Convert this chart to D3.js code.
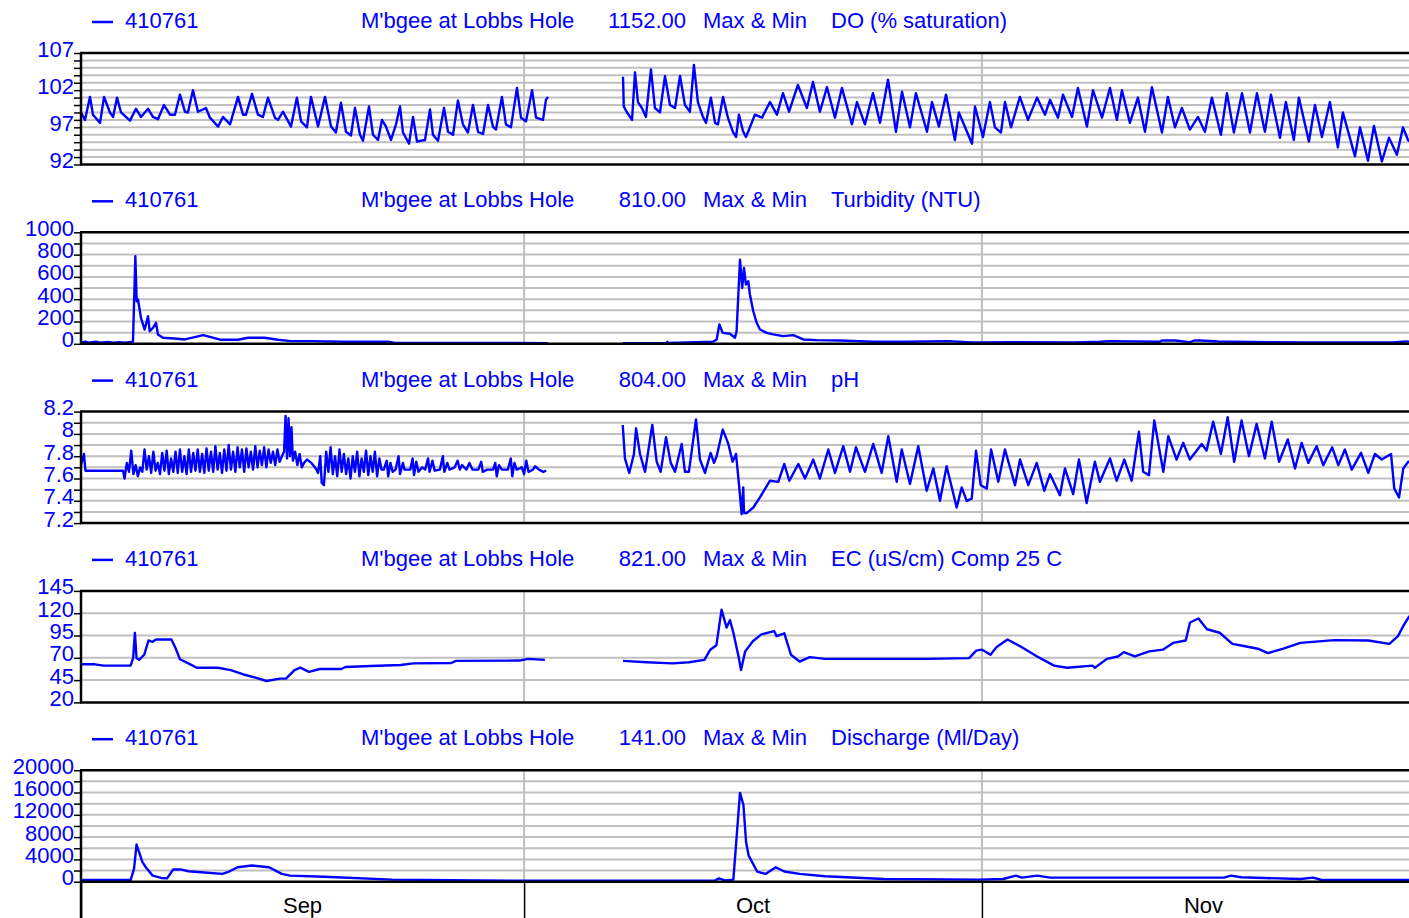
<!DOCTYPE html>
<html>
<head>
<meta charset="utf-8">
<script src="https://cdn.jsdelivr.net/npm/d3@7"></script>
<style>
html, body { margin: 0; padding: 0; background: #fff; overflow: hidden; }
svg { display: block; font-family: "Liberation Sans", Arial, sans-serif; }
</style>
</head>
<body>
<div id="chart"></div>
<script>
const siteId = "410761";
const siteName = "M'bgee at Lobbs Hole";
const headerValues = ["1152.00", "810.00", "804.00", "821.00", "141.00"];
const statLabel = "Max & Min";
const paramNames = ["DO (% saturation)", "Turbidity (NTU)", "pH", "EC (uS/cm) Comp 25 C", "Discharge (Ml/Day)"];
const monthLabels = ["Sep", "Oct", "Nov"];

const yDomains = [[92, 107], [0, 1000], [7.2, 8.2], [20, 145], [0, 20000]];
const yMajorTicks = [
    [92, 97, 102, 107],
    [0, 200, 400, 600, 800, 1000],
    [7.2, 7.4, 7.6, 7.8, 8, 8.2],
    [20, 45, 70, 95, 120, 145],
    [0, 4000, 8000, 12000, 16000, 20000]
];
const yGridSteps = [1, 100, 0.1, 25, 2000];

// [days since 1 Sep, value]; null marks a gap in the record
const doData = [
[0.00,99.0],[0.27,98.0],[0.61,101.1],[0.81,98.7],[1.29,97.6],[1.56,101.1],[1.96,99.0],[2.17,98.4],[2.44,101.0],[2.71,99.0],[3.32,97.9],[3.72,99.5],[4.06,98.4],[4.54,99.5],[4.87,98.4],[5.21,98.1],[5.62,100.0],[6.03,98.7],[6.36,98.7],[6.70,101.4],[7.04,99.1],[7.24,99.0],[7.58,102.0],[7.92,99.1],[8.46,99.6],[8.73,98.3],[9.28,97.1],[9.61,98.4],[10.09,97.4],[10.63,101.1],[10.97,98.7],[11.17,98.7],[11.58,101.5],[11.98,98.7],[12.32,98.4],[12.66,101.0],[13.13,98.3],[13.34,98.0],[13.68,99.1],[14.22,97.1],[14.62,101.0],[14.90,97.8],[15.30,97.0],[15.57,101.1],[16.05,97.1],[16.52,101.1],[16.93,97.1],[17.26,96.3],[17.60,100.3],[17.94,96.4],[18.28,95.9],[18.55,99.6],[18.89,96.0],[19.09,95.2],[19.50,99.8],[19.77,96.0],[20.11,95.3],[20.38,98.0],[20.65,97.1],[20.99,95.3],[21.33,97.4],[21.60,99.8],[21.80,96.3],[22.21,94.8],[22.48,98.4],[22.75,95.1],[23.29,95.3],[23.63,99.4],[23.83,96.0],[24.17,95.2],[24.58,99.6],[24.85,96.4],[25.19,96.0],[25.52,100.6],[25.86,97.4],[26.20,96.3],[26.54,100.0],[26.88,96.4],[27.22,96.1],[27.56,100.0],[27.89,97.1],[28.10,96.7],[28.50,101.1],[28.77,97.4],[29.11,97.0],[29.52,102.3],[29.79,98.3],[30.13,97.8],[30.54,102.0],[30.81,98.3],[31.28,98.0],[31.48,100.7],[31.62,101.1],
null,
[36.70,103.8],[36.75,99.8],[36.97,99.0],[37.31,98.0],[37.51,104.4],[37.71,100.4],[37.98,99.6],[38.25,98.4],[38.59,104.8],[38.86,99.6],[39.20,99.0],[39.54,103.9],[39.88,100.0],[40.22,99.6],[40.56,103.9],[40.89,100.0],[41.23,99.1],[41.50,105.4],[41.77,100.4],[42.11,98.4],[42.32,97.6],[42.65,101.0],[42.93,97.6],[43.13,97.4],[43.47,101.1],[43.80,98.3],[44.14,96.4],[44.35,95.7],[44.55,98.7],[44.82,96.5],[45.02,95.7],[45.23,96.7],[45.63,98.7],[46.11,98.3],[46.65,100.4],[47.12,98.7],[47.53,101.6],[47.94,99.1],[48.54,102.7],[49.15,99.6],[49.56,103.1],[50.03,99.1],[50.51,102.4],[51.05,98.3],[51.52,102.3],[52.20,97.4],[52.54,100.4],[53.08,97.4],[53.62,101.6],[54.10,97.6],[54.64,103.4],[55.18,96.4],[55.59,101.8],[56.13,97.0],[56.53,101.6],[57.28,96.4],[57.62,100.4],[58.09,97.1],[58.57,101.4],[59.17,95.3],[59.44,99.0],[60.33,94.8],[60.53,99.8],[61.07,95.7],[61.54,100.4],[61.88,97.0],[62.29,96.3],[62.56,100.4],[62.97,97.0],[63.57,101.1],[64.12,98.0],[64.73,101.0],[65.27,98.7],[65.61,100.7],[66.15,98.3],[66.49,101.4],[67.10,98.4],[67.50,102.3],[68.11,97.1],[68.52,102.0],[69.13,98.3],[69.67,102.3],[70.14,98.0],[70.48,102.0],[71.02,97.6],[71.56,101.0],[72.04,96.4],[72.51,102.4],[73.19,96.3],[73.59,101.1],[74.07,97.0],[74.54,99.6],[75.08,96.7],[75.63,98.4],[76.10,96.4],[76.57,101.0],[77.18,96.0],[77.59,101.6],[78.06,96.3],[78.61,101.6],[79.15,96.3],[79.62,101.6],[80.16,96.4],[80.57,101.4],[81.18,95.6],[81.58,100.4],[82.12,95.3],[82.46,101.0],[83.14,95.1],[83.55,100.0],[84.02,95.7],[84.56,100.4],[85.10,94.3],[85.44,99.0],[86.26,93.1],[86.60,97.0],[87.14,92.5],[87.54,97.2],[88.08,92.4],[88.56,95.6],[89.10,93.3],[89.51,97.0],[89.85,95.3],[90.30,94.6]
];

const turbData = [
[0.00,12],[0.30,20],[0.50,10],[1.00,18],[1.30,10],[1.80,16],[2.20,10],[2.60,15],[3.00,10],[3.52,20],[3.68,785],[3.77,382],[3.86,397],[4.06,233],[4.31,128],[4.54,248],[4.65,113],[4.87,143],[5.08,188],[5.21,84],[5.55,54],[6.34,48],[7.02,39],[7.70,60],[8.26,78],[8.80,60],[9.48,36],[10.63,36],[11.31,54],[12.44,54],[13.34,36],[14.22,24],[15.57,24],[17.85,18],[20.79,18],[21.24,8],[24.62,8],[31.62,6],
null,
[36.68,6],[39.65,8],[39.70,18],[39.75,8],[42.79,18],[43.04,39],[43.22,173],[43.45,98],[43.94,90],[44.28,54],[44.39,113],[44.62,755],[44.77,501],[44.89,680],[45.02,531],[45.18,561],[45.29,442],[45.52,292],[45.75,188],[45.97,128],[46.43,98],[46.87,84],[47.55,69],[48.23,78],[48.90,39],[49.81,33],[51.39,30],[53.62,18],[55.90,18],[58.70,24],[60.39,12],[61.07,12],[62.90,15],[67.30,12],[68.99,18],[69.67,24],[73.05,18],[73.19,30],[74.07,30],[75.08,15],[75.42,30],[75.76,30],[77.00,20],[78.00,18],[80.70,15],[82.70,12],[88.80,12],[89.70,20],[90.30,18]
];

const phData = [
[0.00,7.72],[0.20,7.82],[0.30,7.67],[2.85,7.67],[2.95,7.60],[3.10,7.74],[3.25,7.66],[3.40,7.85],[3.55,7.64],[3.70,7.72],[3.85,7.62],[4.00,7.70],[4.15,7.66],[4.30,7.86],[4.45,7.68],[4.60,7.80],[4.75,7.65],[4.90,7.84],[5.05,7.67],[5.20,7.74],[5.35,7.64],[5.50,7.83],[5.65,7.67],[5.80,7.85],[5.95,7.64],[6.10,7.78],[6.25,7.66],[6.40,7.84],[6.55,7.65],[6.70,7.86],[6.85,7.66],[7.00,7.80],[7.15,7.64],[7.30,7.86],[7.45,7.66],[7.60,7.83],[7.75,7.67],[7.90,7.86],[8.05,7.66],[8.20,7.82],[8.35,7.65],[8.50,7.87],[8.65,7.67],[8.80,7.84],[8.95,7.66],[9.10,7.89],[9.25,7.68],[9.40,7.83],[9.55,7.65],[9.70,7.86],[9.85,7.67],[10.00,7.90],[10.15,7.68],[10.30,7.84],[10.45,7.66],[10.60,7.88],[10.75,7.70],[10.90,7.86],[11.05,7.66],[11.20,7.87],[11.35,7.70],[11.50,7.84],[11.65,7.68],[11.80,7.89],[11.95,7.70],[12.10,7.85],[12.25,7.72],[12.40,7.88],[12.55,7.70],[12.70,7.86],[12.85,7.74],[13.00,7.84],[13.15,7.72],[13.30,7.86],[13.45,7.75],[13.60,7.80],[13.75,7.84],[13.85,8.16],[13.95,7.78],[14.05,8.14],[14.15,7.80],[14.25,8.06],[14.35,7.76],[14.50,7.84],[14.65,7.72],[14.80,7.82],[14.95,7.70],[15.10,7.74],[15.30,7.77],[15.60,7.74],[15.90,7.69],[16.05,7.65],[16.20,7.80],[16.30,7.56],[16.45,7.54],[16.60,7.84],[16.75,7.66],[16.90,7.88],[17.05,7.64],[17.20,7.80],[17.35,7.62],[17.50,7.86],[17.65,7.66],[17.80,7.82],[17.95,7.64],[18.10,7.78],[18.25,7.60],[18.40,7.80],[18.55,7.66],[18.70,7.84],[18.85,7.62],[19.00,7.78],[19.15,7.66],[19.30,7.85],[19.45,7.63],[19.60,7.80],[19.75,7.66],[19.90,7.84],[20.05,7.62],[20.20,7.78],[20.35,7.68],[20.50,7.68],[20.70,7.76],[20.80,7.62],[20.95,7.74],[21.10,7.66],[21.30,7.68],[21.50,7.80],[21.60,7.64],[21.80,7.74],[21.90,7.68],[22.30,7.68],[22.45,7.78],[22.55,7.63],[22.70,7.75],[22.85,7.66],[23.10,7.70],[23.30,7.68],[23.50,7.78],[23.60,7.66],[23.80,7.76],[23.95,7.67],[24.30,7.68],[24.50,7.80],[24.60,7.66],[24.80,7.74],[24.95,7.68],[25.30,7.70],[25.50,7.76],[25.65,7.68],[25.80,7.72],[26.10,7.68],[26.30,7.74],[26.50,7.68],[26.90,7.68],[27.10,7.75],[27.20,7.66],[27.50,7.68],[27.90,7.68],[28.05,7.74],[28.15,7.62],[28.30,7.72],[28.50,7.68],[28.90,7.68],[29.10,7.78],[29.20,7.62],[29.35,7.74],[29.50,7.68],[29.85,7.70],[30.00,7.64],[30.15,7.76],[30.30,7.66],[30.60,7.68],[30.75,7.71],[31.00,7.68],[31.30,7.66],[31.50,7.67],
null,
[36.68,8.08],[36.83,7.78],[37.12,7.65],[37.44,7.82],[37.58,8.05],[37.85,7.82],[38.19,7.66],[38.68,8.08],[38.98,7.75],[39.25,7.66],[39.61,7.97],[39.93,7.74],[40.22,7.66],[40.67,7.91],[40.89,7.66],[41.16,7.66],[41.64,8.13],[41.91,7.77],[42.25,7.65],[42.63,7.83],[42.86,7.74],[43.04,7.80],[43.45,8.04],[43.83,7.91],[44.12,7.75],[44.35,7.82],[44.57,7.52],[44.73,7.28],[44.84,7.52],[44.89,7.29],[45.07,7.29],[45.52,7.34],[45.97,7.43],[46.65,7.58],[47.21,7.57],[47.62,7.73],[47.96,7.58],[48.57,7.73],[49.02,7.60],[49.58,7.77],[50.03,7.60],[50.60,7.86],[51.05,7.65],[51.61,7.89],[52.07,7.66],[52.47,7.88],[53.08,7.66],[53.64,7.91],[54.21,7.65],[54.66,7.98],[55.23,7.57],[55.57,7.86],[56.13,7.55],[56.69,7.89],[57.26,7.49],[57.71,7.69],[58.16,7.40],[58.61,7.71],[59.29,7.34],[59.63,7.52],[59.97,7.40],[60.31,7.42],[60.60,7.85],[60.92,7.54],[61.33,7.51],[61.62,7.86],[62.11,7.57],[62.56,7.86],[63.24,7.54],[63.58,7.77],[64.14,7.54],[64.71,7.74],[65.22,7.49],[65.61,7.64],[66.28,7.45],[66.62,7.69],[67.18,7.46],[67.57,7.77],[68.09,7.38],[68.65,7.75],[68.99,7.57],[69.67,7.78],[70.12,7.58],[70.64,7.77],[71.14,7.58],[71.63,8.02],[71.92,7.66],[72.31,7.63],[72.67,8.12],[73.28,7.66],[73.62,7.98],[74.18,7.77],[74.63,7.92],[75.08,7.77],[75.88,7.91],[76.21,7.85],[76.66,8.11],[77.18,7.82],[77.64,8.15],[78.08,7.75],[78.58,8.12],[79.08,7.80],[79.60,8.09],[80.16,7.78],[80.62,8.11],[81.12,7.75],[81.71,7.95],[82.20,7.69],[82.65,7.92],[83.10,7.74],[83.66,7.89],[84.11,7.72],[84.72,7.88],[85.13,7.72],[85.58,7.86],[86.04,7.68],[86.67,7.83],[87.16,7.65],[87.61,7.82],[88.07,7.77],[88.70,7.82],[88.92,7.51],[89.24,7.43],[89.53,7.69],[89.87,7.75],[90.30,7.76]
];

const ecData = [
[0.07,62.7],[0.95,62.7],[1.52,61.2],[3.36,61.2],[3.53,69.6],[3.65,98.0],[3.76,69.6],[3.93,67.7],[4.28,73.4],[4.57,89.4],[4.85,87.9],[5.08,90.5],[6.12,90.5],[6.40,81.0],[6.70,68.4],[7.27,63.8],[7.84,58.9],[9.28,58.9],[10.14,56.2],[11.00,51.3],[11.87,47.5],[12.56,44.0],[13.47,46.7],[13.88,46.7],[14.46,56.2],[14.85,58.9],[15.43,54.3],[16.18,57.4],[17.62,57.4],[17.90,59.7],[19.63,60.8],[21.64,62.0],[22.50,63.8],[25.08,64.2],[25.38,66.5],[29.68,66.9],[30.26,68.8],[31.41,67.7],
null,
[36.70,66.5],[38.31,65.0],[40.03,63.8],[41.18,65.0],[42.21,67.7],[42.61,79.1],[43.02,84.0],[43.37,124.0],[43.71,103.9],[43.94,112.2],[44.17,98.1],[44.52,71.5],[44.69,56.2],[44.97,77.2],[45.49,88.6],[46.07,96.2],[46.93,100.0],[47.10,94.3],[47.62,97.4],[48.07,73.4],[48.65,65.8],[49.34,70.7],[50.37,68.8],[54.39,68.8],[57.27,68.8],[60.14,69.6],[60.61,78.0],[61.01,79.1],[61.58,73.4],[61.98,81.8],[62.73,90.5],[63.59,82.9],[64.74,71.5],[65.89,61.2],[66.76,58.9],[68.48,61.2],[68.65,58.9],[69.46,68.8],[70.21,71.5],[70.61,76.4],[71.35,71.5],[72.33,77.2],[73.25,79.1],[73.94,86.7],[74.80,89.4],[75.09,109.6],[75.66,114.1],[76.24,102.0],[77.10,98.1],[77.96,85.6],[78.82,82.9],[79.68,80.2],[80.37,75.3],[81.41,80.2],[82.56,86.7],[84.86,89.8],[87.16,89.4],[88.59,85.6],[89.17,94.3],[89.57,106.9],[89.91,116.0],[90.30,120.0]
];

const qData = [
[0.07,300],[3.36,300],[3.59,2300],[3.76,6670],[3.93,5330],[4.16,3500],[4.39,2600],[4.85,1090],[5.43,670],[5.83,600],[6.24,2180],[6.81,2180],[7.27,1880],[8.13,1700],[9.57,1400],[10.03,1820],[10.60,2600],[11.58,2900],[12.73,2600],[13.59,1400],[14.16,1090],[16.47,900],[21.06,364],[29.68,180],[42.90,180],[43.19,600],[43.60,240],[44.17,364],[44.62,15940],[44.85,13800],[45.03,7150],[45.20,4730],[45.78,1820],[46.35,1400],[47.04,2600],[47.62,1820],[48.65,1400],[50.37,970],[54.39,485],[60.72,364],[62.44,485],[63.30,1090],[63.71,727],[64.74,1090],[65.61,727],[77.39,727],[77.85,1090],[78.54,788],[82.56,485],[83.42,727],[84.00,303],[89.90,303],[90.30,303]
];

const series = [doData, turbData, phData, ecData, qData];

const W = 1409, H = 918;
const plotLeft = 81, plotRight = 1425;
const panelTop0 = 53, panelStep = 179.3, panelH = 111.5;
const blue = "#0000ff", grid = "#c0c0c0";

const svg = d3.select("#chart").append("svg")
    .attr("width", W)
    .attr("height", H);

const t0 = new Date(Date.UTC(2021, 8, 1));
const t1 = new Date(Date.UTC(2021, 11, 1));
const toDate = d => new Date(t0.getTime() + d * 864e5);
const x = d3.scaleUtc().domain([t0, t1]).range([plotLeft, plotRight]);
const monthStarts = d3.utcMonth.range(t0, t1);

series.forEach((data, i) => {
    const top = panelTop0 + i * panelStep;
    const bottom = top + panelH;
    const [d0, d1] = yDomains[i];
    const y = d3.scaleLinear().domain([d0, d1]).range([bottom, top]);
    const step = yGridSteps[i];
    const gridVals = d3.range(0, Math.round((d1 - d0) / step) + 1).map(k => +(d0 + k * step).toFixed(4));
    const majors = yMajorTicks[i];

    const g = svg.append("g");

    // Header
    const hy = top - 25;
    g.append("line")
        .attr("x1", 92).attr("x2", 113)
        .attr("y1", top - 31).attr("y2", top - 31)
        .style("stroke", blue).style("stroke-width", 2.5);
    const header = [
        { text: siteId, x: 125, anchor: "start" },
        { text: siteName, x: 361, anchor: "start" },
        { text: headerValues[i], x: 686, anchor: "end" },
        { text: statLabel, x: 703, anchor: "start" },
        { text: paramNames[i], x: 831, anchor: "start" }
    ];
    g.selectAll(".hdr")
        .data(header)
        .enter()
        .append("text")
        .attr("x", d => d.x)
        .attr("y", hy)
        .attr("text-anchor", d => d.anchor)
        .style("font-size", "22px")
        .style("fill", blue)
        .text(d => d.text);

    // Horizontal grid
    g.selectAll(".grid")
        .data(gridVals.slice(1, -1))
        .enter()
        .append("line")
        .attr("x1", plotLeft).attr("x2", W)
        .attr("y1", d => y(d)).attr("y2", d => y(d))
        .style("stroke", grid)
        .style("stroke-width", 2);

    // Month lines
    g.selectAll(".mgrid")
        .data(monthStarts.slice(1))
        .enter()
        .append("line")
        .attr("x1", d => x(d)).attr("x2", d => x(d))
        .attr("y1", top).attr("y2", bottom)
        .style("stroke", grid)
        .style("stroke-width", 2);

    // Data
    const clipId = "clip" + i;
    svg.append("clipPath").attr("id", clipId)
        .append("rect")
        .attr("x", plotLeft).attr("y", top)
        .attr("width", W - plotLeft).attr("height", panelH);

    const line = d3.line()
        .defined(d => d !== null)
        .x(d => x(toDate(d[0])))
        .y(d => y(d[1]));

    g.append("path")
        .datum(data)
        .attr("clip-path", `url(#${clipId})`)
        .attr("d", line)
        .style("fill", "none")
        .style("stroke", blue)
        .style("stroke-width", 2.4)
        .style("stroke-linejoin", "round");

    // Borders
    [top, bottom].forEach(yy => {
        g.append("line")
            .attr("x1", plotLeft - 1).attr("x2", W)
            .attr("y1", yy).attr("y2", yy)
            .style("stroke", "#000")
            .style("stroke-width", 2.5);
    });
    g.append("line")
        .attr("x1", plotLeft).attr("x2", plotLeft)
        .attr("y1", top).attr("y2", i === series.length - 1 ? H : bottom)
        .style("stroke", "#000")
        .style("stroke-width", 2.5);

    // Y axis
    const axis = d3.axisLeft(y)
        .tickValues(gridVals)
        .tickSize(7)
        .tickSizeOuter(0)
        .tickPadding(0)
        .tickFormat(v => majors.some(m => Math.abs(m - v) < 1e-6) ? d3.format("~g")(v) : "");
    const ag = g.append("g")
        .attr("transform", `translate(${plotLeft},0)`)
        .call(axis);
    ag.select(".domain").remove();
    ag.selectAll(".tick line").style("stroke", "#000").style("stroke-width", 1.5);
    ag.selectAll(".tick text")
        .attr("dy", "0.14em")
        .style("font-size", "22px")
        .style("font-family", "'Liberation Sans', Arial, sans-serif")
        .style("fill", blue);
});

// Bottom time axis
const lastBottom = panelTop0 + (series.length - 1) * panelStep + panelH;
const xAxis = d3.axisBottom(x)
    .tickValues(monthStarts)
    .tickSize(H - lastBottom)
    .tickSizeOuter(0)
    .tickFormat("");
const xg = svg.append("g")
    .attr("transform", `translate(0,${lastBottom})`)
    .call(xAxis);
xg.select(".domain").remove();
xg.selectAll(".tick line").style("stroke", "#000").style("stroke-width", 1.5);

const monthMids = monthStarts.map(d => {
    const next = d3.utcMonth.offset(d, 1);
    return new Date((d.getTime() + next.getTime()) / 2);
});
svg.selectAll(".month")
    .data(monthMids)
    .enter()
    .append("text")
    .attr("x", d => x(d))
    .attr("y", 913)
    .attr("text-anchor", "middle")
    .style("font-size", "22px")
    .style("fill", "#000")
    .text((d, i) => monthLabels[i]);
</script>
</body>
</html>
